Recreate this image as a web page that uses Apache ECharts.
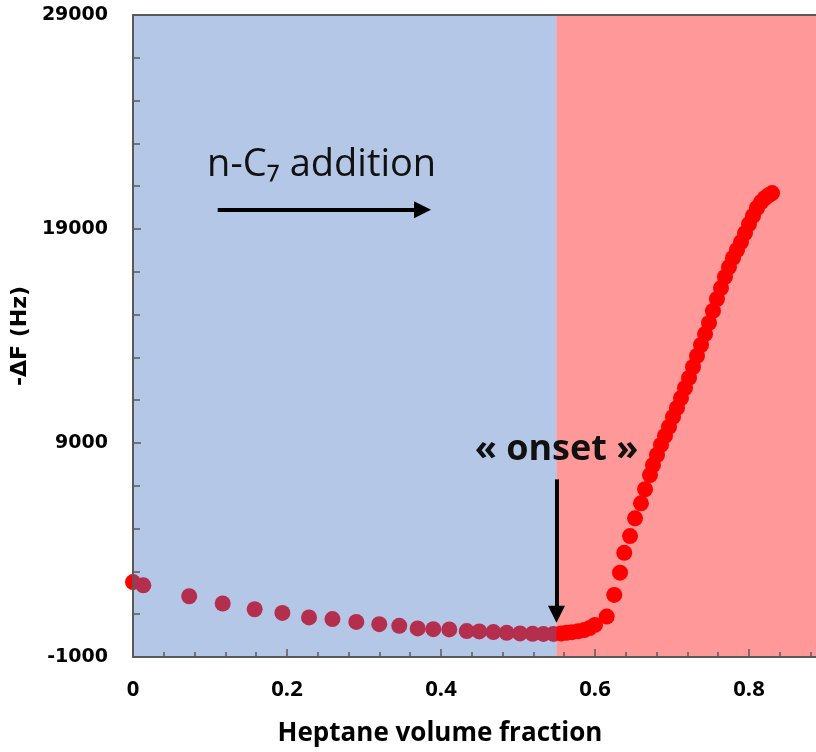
<!DOCTYPE html>
<html>
<head>
<meta charset="utf-8">
<script src="https://cdn.jsdelivr.net/npm/echarts@6/dist/echarts.min.js"></script>
<style>
  html, body { margin: 0; padding: 0; background: #fff; }
  #chart { width: 816px; height: 752px; }
</style>
</head>
<body>
<div id="chart"></div>
<script>
// Heptane volume fraction of each measurement
const fraction = [
  0, 0.0134, 0.073, 0.1165, 0.158, 0.194, 0.2286, 0.259, 0.290, 0.3198, 0.3458,
  0.3697, 0.390, 0.4108, 0.4334, 0.4497, 0.468, 0.4853, 0.5026, 0.519, 0.533, 0.546,
  0.556, 0.563, 0.570, 0.578, 0.586, 0.593, 0.600, 0.6152, 0.625, 0.6325, 0.638,
  0.6455, 0.652, 0.6597, 0.665, 0.6714,
  0.6753, 0.6805, 0.6857, 0.6909, 0.6961, 0.7013, 0.7065, 0.7117, 0.7169, 0.7221,
  0.7273, 0.7325, 0.7377, 0.7429, 0.7481, 0.7532, 0.7584, 0.7636, 0.7688, 0.774,
  0.7792, 0.7844, 0.7896, 0.7948, 0.8, 0.8052, 0.8104, 0.8156, 0.8208, 0.826, 0.83
];
// Frequency shift -ΔF (Hz)
const deltaF = [
  2500, 2350, 1840, 1500, 1230, 1060, 850, 770, 640, 535, 455,
  335, 300, 290, 210, 195, 165, 130, 100, 85, 80, 80,
  100, 130, 160, 200, 260, 350, 500, 890, 1900, 2940, 3870,
  4650, 5480, 6180, 6840, 7500,
  7970, 8440, 8910, 9330, 9750, 10220, 10640, 11100, 11570, 12040,
  12550, 13070, 13580, 14090, 14610, 15170, 15730, 16240, 16760, 17220,
  17650, 18020, 18390, 18810, 19230, 19610, 19980, 20260, 20450, 20590, 20680
];

// Shaded regions: before and after the onset of precipitation
const regionStart = [0, 0.55];
const regionEnd = [0.55, 1];
const regionColor = ['rgba(68,114,196,0.4)', 'rgba(255,0,0,0.4)'];

const xTicks = { min: 0, max: 1, interval: 0.2 };
const yTicks = { min: -1000, max: 29000, interval: 10000 };

const onsetFraction = 0.55;

const points = fraction.map((x, i) => [x, deltaF[i]]);
const regions = regionStart.map((s, i) => ({
  value: [s, regionEnd[i], yTicks.min, yTicks.max],
  itemStyle: { color: regionColor[i] }
}));

const axisColor = '#595959';
const chart = echarts.init(document.getElementById('chart'), null, { renderer: 'canvas' });

chart.setOption({
  animation: false,
  backgroundColor: '#ffffff',
  grid: {
    left: 133, top: 15, bottom: 95, right: -87,
    containLabel: false, outerBoundsMode: 'none'
  },
  xAxis: [{
    type: 'value',
    min: xTicks.min, max: xTicks.max, interval: xTicks.interval,
    z: 10,
    name: 'Heptane volume fraction',
    nameLocation: 'middle',
    nameGap: 64,
    nameTextStyle: {
      fontFamily: 'Open Sans', fontWeight: 'bold', fontSize: 26, color: '#000',
      padding: [0, 156, 0, 0]
    },
    axisLine: { show: true, onZero: false, lineStyle: { color: axisColor, width: 2 } },
    axisTick: { show: true, inside: true, length: 8, lineStyle: { color: axisColor, width: 1.5 } },
    minorTick: { show: true, splitNumber: 5, length: 5, lineStyle: { color: axisColor, width: 1.5 } },
    splitLine: { show: false },
    axisLabel: {
      fontFamily: 'Open Sans', fontWeight: 'bold', fontSize: 22, color: '#000', margin: 22,
      showMaxLabel: false,
      formatter: v => (v === 0 ? '0' : v.toFixed(1))
    }
  }, {
    type: 'value', position: 'top',
    min: xTicks.min, max: xTicks.max, z: 10,
    axisLine: { show: true, onZero: false, lineStyle: { color: axisColor, width: 2 } },
    axisTick: { show: false }, axisLabel: { show: false }, splitLine: { show: false }
  }],
  yAxis: {
    type: 'value',
    min: yTicks.min, max: yTicks.max, interval: yTicks.interval,
    z: 10,
    name: '-ΔF (Hz)',
    nameLocation: 'middle',
    nameGap: 82,
    nameTextStyle: { fontFamily: 'DejaVu Sans', fontWeight: 'bold', fontSize: 22, color: '#000' },
    axisLine: { show: true, onZero: false, lineStyle: { color: axisColor, width: 2 } },
    axisTick: { show: true, inside: true, length: 8, lineStyle: { color: axisColor, width: 1.5 } },
    minorTick: { show: true, splitNumber: 5, length: 7, lineStyle: { color: axisColor, width: 1.5 } },
    splitLine: { show: false },
    axisLabel: {
      fontFamily: 'DejaVu Sans', fontWeight: 'bold', fontSize: 19, color: '#000', margin: 25,
      formatter: v => String(v)
    }
  },
  series: [
    {
      name: 'ΔF',
      type: 'scatter',
      data: points,
      symbol: 'circle',
      symbolSize: 16,
      clip: false,
      z: 2,
      itemStyle: { color: '#ff0000', opacity: 1 }
    },
    {
      // translucent shading drawn over the points
      type: 'custom',
      silent: true,
      z: 3,
      clip: true,
      data: regions,
      encode: { x: [0, 1], y: [2, 3] },
      renderItem: (params, api) => {
        const p0 = api.coord([api.value(0), api.value(3)]);
        const p1 = api.coord([api.value(1), api.value(2)]);
        return {
          type: 'rect',
          shape: { x: p0[0], y: p0[1], width: p1[0] - p0[0], height: p1[1] - p0[1] },
          style: { fill: api.visual('color') }
        };
      }
    },
    {
      // annotations: arrows and captions
      type: 'scatter',
      data: [],
      silent: true,
      z: 20,
      markLine: {
        silent: true,
        symbol: ['none', 'triangle'],
        symbolSize: 17,
        label: { show: false },
        lineStyle: { color: '#000', width: 4, type: 'solid' },
        emphasis: { disabled: true },
        data: [
          [{ coord: [0.11, 19900] }, { coord: [0.376, 19900] }],
          [{ coord: [onsetFraction, 7300] }, { coord: [onsetFraction, 1000] }]
        ]
      },
      markPoint: {
        silent: true,
        symbol: 'circle',
        symbolSize: 0,
        itemStyle: { color: 'transparent' },
        data: [
          {
            coord: [0.245, 22000],
            label: {
              show: true, position: 'inside', formatter: 'n-C₇ addition',
              fontFamily: 'Open Sans', fontSize: 38, color: '#111'
            }
          },
          {
            coord: [onsetFraction, 8700],
            label: {
              show: true, position: 'inside', formatter: '« onset »',
              fontFamily: 'Open Sans', fontWeight: 'bold', fontSize: 36, color: '#111'
            }
          }
        ]
      }
    }
  ]
});
</script>
</body>
</html>
